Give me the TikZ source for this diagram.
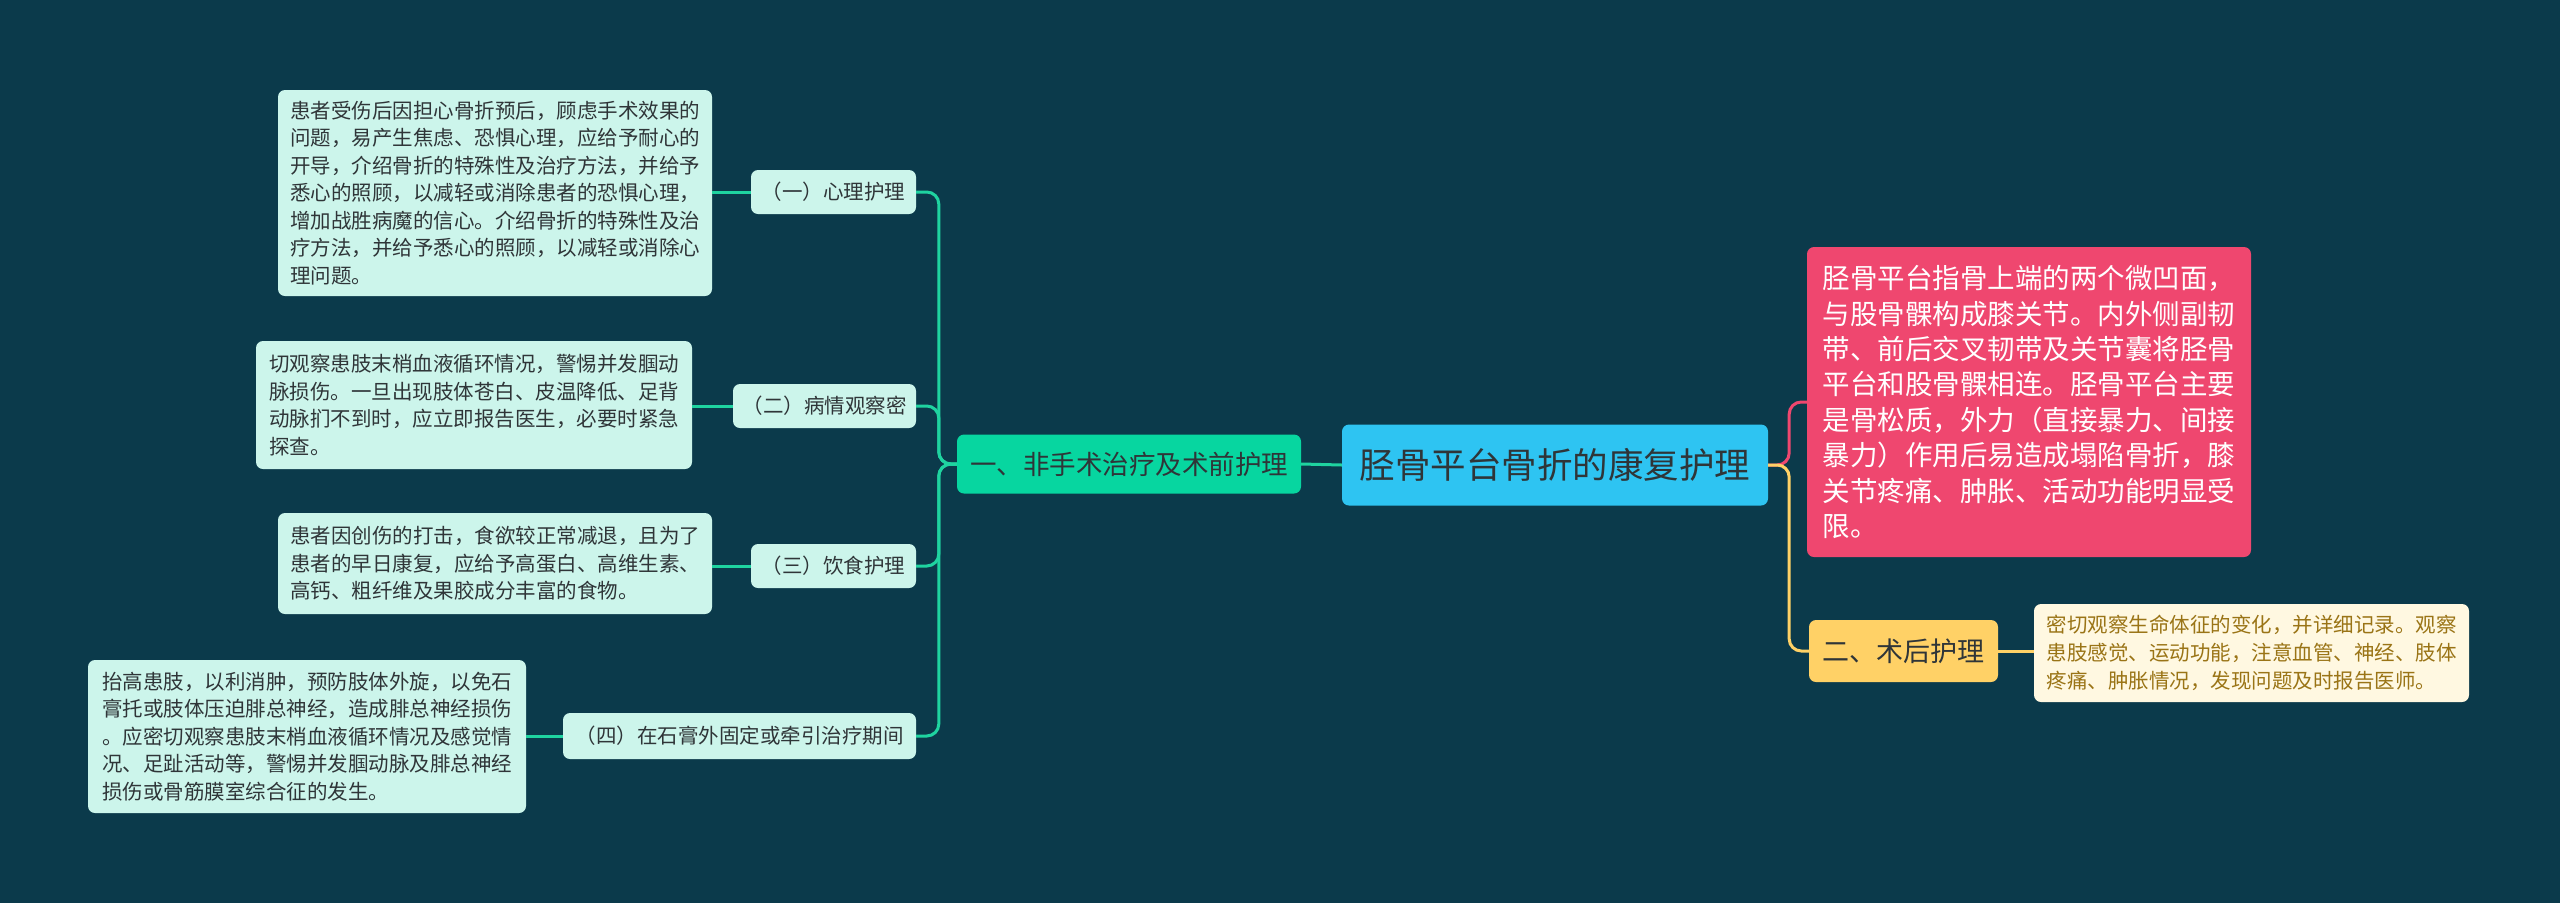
\documentclass[tikz,border=0pt]{standalone}
\usepackage{fontspec}
\setmainfont{Noto Sans CJK SC}
\begin{document}
\begin{tikzpicture}[x=1pt,y=-1pt,
  box/.style={rounded corners=7pt,inner sep=0pt,align=left},
  leaf/.style={box,fill=mintbox,text=inkgray,font=\fontsize{20.5}{27.5}\selectfont},
  sub/.style={box,fill=mintbox,text=inkgray,font=\fontsize{20.5}{25}\selectfont},
  link/.style={line width=3pt,draw=tealline}]
\definecolor{bgdark}{HTML}{0B3A4B}
\definecolor{mintbox}{HTML}{CCF5EB}
\definecolor{inkgray}{HTML}{2F3538}
\definecolor{tealline}{HTML}{1FD3A0}
\definecolor{greenbox}{HTML}{07D6A0}
\definecolor{skyblue}{HTML}{2EC4F2}
\definecolor{rosered}{HTML}{EF476F}
\definecolor{sunyellow}{HTML}{FFD166}
\definecolor{creambox}{HTML}{FFF8E1}
\definecolor{brownink}{HTML}{9A7416}
\fill[bgdark] (0,0) rectangle (2560,903);
% centre and first level
\node [box,fill=skyblue,text=inkgray,font=\fontsize{35.5}{40}\selectfont,
  minimum width=426pt,minimum height=81pt] (root) at (1555,465) {胫骨平台骨折的康复护理};
\node [box,fill=greenbox,text=inkgray,font=\fontsize{26.5}{30}\selectfont,
  minimum width=344pt,minimum height=59pt] (b1) at (1129,464) {一、非手术治疗及术前护理};
\node [box,fill=rosered,text=white,font=\fontsize{27.5}{35.4}\selectfont,
  minimum width=444pt,minimum height=310pt] (pink) at (2029,402)
  {胫骨平台指骨上端的两个微凹面，\\与股骨髁构成膝关节。内外侧副韧\\带、前后交叉韧带及关节囊将胫骨\\平台和股骨髁相连。胫骨平台主要\\是骨松质，外力（直接暴力、间接\\暴力）作用后易造成塌陷骨折，膝\\关节疼痛、肿胀、活动功能明显受\\限。};
\node [box,fill=sunyellow,text=inkgray,font=\fontsize{27}{30}\selectfont,
  minimum width=189pt,minimum height=62pt] (yel) at (1903.5,651) {二、术后护理};
\node [box,fill=creambox,text=brownink,font=\fontsize{20.5}{27.8}\selectfont,
  minimum width=435pt,minimum height=98pt] (cream) at (2251.5,653)
  {密切观察生命体征的变化，并详细记录。观察\\患肢感觉、运动功能，注意血管、神经、肢体\\疼痛、肿胀情况，发现问题及时报告医师。};
% second level
\node [sub,minimum width=165pt,minimum height=44pt] (s1) at (833.5,192) {（一）心理护理};
\node [sub,minimum width=183pt,minimum height=44pt] (s2) at (824.5,406) {（二）病情观察密};
\node [sub,minimum width=165pt,minimum height=44pt] (s3) at (833.5,566) {（三）饮食护理};
\node [sub,minimum width=353pt,minimum height=46pt] (s4) at (739.5,736) {（四）在石膏外固定或牵引治疗期间};
% leaves
\node [leaf,minimum width=434pt,minimum height=206pt] (l1) at (495,193)
  {患者受伤后因担心骨折预后，顾虑手术效果的\\问题，易产生焦虑、恐惧心理，应给予耐心的\\开导，介绍骨折的特殊性及治疗方法，并给予\\悉心的照顾，以减轻或消除患者的恐惧心理，\\增加战胜病魔的信心。介绍骨折的特殊性及治\\疗方法，并给予悉心的照顾，以减轻或消除心\\理问题。};
\node [leaf,minimum width=436pt,minimum height=128pt] (l2) at (474,405)
  {切观察患肢末梢血液循环情况，警惕并发腘动\\脉损伤。一旦出现肢体苍白、皮温降低、足背\\动脉扪不到时，应立即报告医生，必要时紧急\\探查。};
\node [leaf,minimum width=434pt,minimum height=101pt] (l3) at (495,563.5)
  {患者因创伤的打击，食欲较正常减退，且为了\\患者的早日康复，应给予高蛋白、高维生素、\\高钙、粗纤维及果胶成分丰富的食物。};
\node [leaf,minimum width=438pt,minimum height=153pt] (l4) at (307,736.5)
  {抬高患肢，以利消肿，预防肢体外旋，以免石\\膏托或肢体压迫腓总神经，造成腓总神经损伤\\。应密切观察患肢末梢血液循环情况及感觉情\\况、足趾活动等，警惕并发腘动脉及腓总神经\\损伤或骨筋膜室综合征的发生。};
% connectors
\draw [link] (root.west) -- (b1.east);
\foreach \s in {s1,s2,s3,s4}
  \draw [link,rounded corners=12pt] (b1.west) -- ++(-18,0) |- (\s.east);
\foreach \s/\l in {s1/l1,s2/l2,s3/l3,s4/l4}
  \draw [link] (\s.west) -- (\s.west -| \l.east);
\draw [line width=3pt,draw=rosered,rounded corners=12pt] (root.east) -- ++(21,0) |- (pink.west);
\draw [line width=3pt,draw=sunyellow,rounded corners=12pt] (root.east) -- ++(21,0) |- (yel.west);
\draw [line width=3pt,draw=sunyellow] (yel.east) -- (yel.east -| cream.west);
\end{tikzpicture}
\end{document}
